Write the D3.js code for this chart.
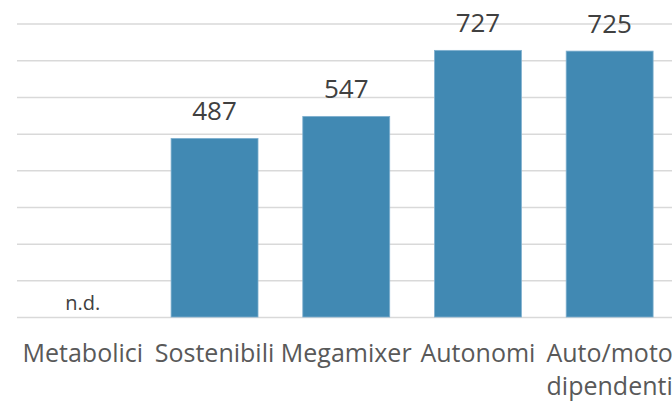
<!DOCTYPE html>
<html>
<head>
<meta charset="utf-8">
<script src="https://cdn.jsdelivr.net/npm/d3@7"></script>
<style>
  body { margin: 0; background: #fff; }
  svg { display: block; font-family: "Open Sans", sans-serif; }
</style>
</head>
<body>
<svg id="chart"></svg>
<script>
var width = 672,
    height = 402;

// data
var categories = ["Metabolici", "Sostenibili", "Megamixer", "Autonomi", "Auto/moto dipendenti"];
var catLines = [["Metabolici"], ["Sostenibili"], ["Megamixer"], ["Autonomi"], ["Auto/moto", "dipendenti"]];
var values = [null, 487, 547, 727, 725];
var gridTicks = [0, 100, 200, 300, 400, 500, 600, 700, 800];

var plotLeft = 17,
    step = 131.7,
    plotBase = 317,
    plotTop = 23.6;

var svg = d3.select("#chart").attr("width", width).attr("height", height);

var x = d3.scaleBand()
  .domain(categories)
  .range([plotLeft, plotLeft + step * categories.length])
  .paddingInner(0.34)
  .paddingOuter(0.17);

var y = d3.scaleLinear()
  .domain([0, 800])
  .range([plotBase, plotTop]);

// gridlines
var grid = svg.append("g")
  .attr("transform", "translate(" + plotLeft + ",0)")
  .call(d3.axisLeft(y).tickValues(gridTicks).tickSize(-(width - plotLeft)).tickFormat(""));
grid.select(".domain").remove();
grid.selectAll(".tick line")
  .attr("stroke", "#d9d9d9")
  .attr("stroke-width", 1.5);

// bars
svg.append("g").selectAll("rect")
  .data(categories.filter(function(c, i) { return values[i] != null; }))
  .enter().append("rect")
  .attr("x", function(d) { return x(d); })
  .attr("width", x.bandwidth())
  .attr("y", function(d) { return y(values[categories.indexOf(d)]); })
  .attr("height", function(d) { return plotBase - y(values[categories.indexOf(d)]); })
  .attr("fill", "#4189b3")
  .attr("stroke", "#7fb0cf")
  .attr("stroke-width", 0.8);

// value labels
svg.append("g").selectAll("text")
  .data(categories)
  .enter().append("text")
  .attr("x", function(d) { return x(d) + x.bandwidth() / 2; })
  .attr("y", function(d, i) { return values[i] == null ? plotBase - 7 : y(values[i]) - 18; })
  .attr("text-anchor", "middle")
  .attr("fill", "#404040")
  .style("font-size", function(d, i) { return values[i] == null ? "20px" : "26px"; })
  .text(function(d, i) { return values[i] == null ? "n.d." : values[i]; });

// category labels
var cat = svg.append("g").selectAll("text")
  .data(categories)
  .enter().append("text")
  .attr("x", function(d) { return x(d) + x.bandwidth() / 2; })
  .attr("y", 362)
  .attr("text-anchor", "middle")
  .attr("fill", "#595959")
  .style("font-size", "25px");
cat.selectAll("tspan")
  .data(function(d, i) { return catLines[i]; })
  .enter().append("tspan")
  .attr("x", function() { var d = d3.select(this.parentNode).datum(); return x(d) + x.bandwidth() / 2; })
  .attr("dy", function(d, i) { return i === 0 ? 0 : 33; })
  .text(function(d) { return d; });
</script>
</body>
</html>
